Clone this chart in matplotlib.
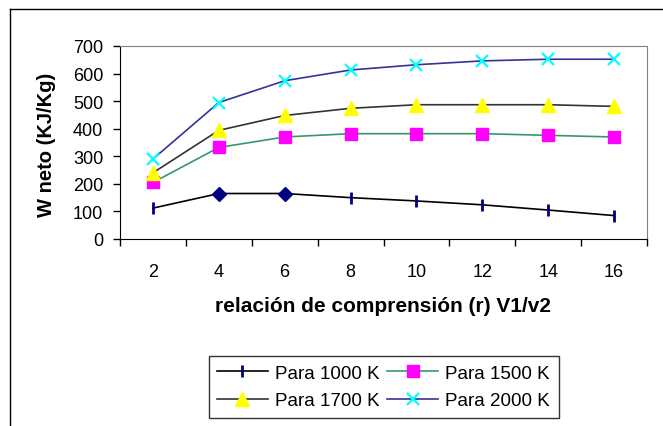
import numpy as np
import matplotlib
matplotlib.use('Agg')
import matplotlib.pyplot as plt
from matplotlib.lines import Line2D

plt.rcParams['font.family'] = ['Liberation Sans', 'DejaVu Sans']

# datos
r_labels = ['2', '4', '6', '8', '10', '12', '14', '16']
w_1000 = [112, 165, 165, 150, 138, 124, 105, 85]
w_1500 = [205, 332, 370, 382, 382, 382, 376, 370]
w_1700 = [240, 394, 448, 474, 487, 487, 487, 481]
w_2000 = [290, 495, 574, 613, 632, 646, 652, 652]
# puntos de la serie 1000 K que aparecen con rombo
rombo_1000 = [1, 2]

fig = plt.figure(figsize=(6.63, 4.27), dpi=100)
W, H = 663, 427
ax = fig.add_axes([120 / W, 1 - 240 / H, 527 / W, 193 / H])

x = np.arange(len(r_labels))

# líneas
ax.plot(x, w_1000, color='black', lw=1.2, zorder=2)
ax.plot(x, w_1500, color='#339966', lw=1.2, zorder=2)
ax.plot(x, w_1700, color='#333333', lw=1.2, zorder=2)
ax.plot(x, w_2000, color='#333399', lw=1.2, zorder=2)

# marcadores
resto = [i for i in x if i not in rombo_1000]
ax.plot(x[resto], np.array(w_1000)[resto], ls='none', marker='|', ms=9,
        mew=2, color='#000080', zorder=3)
ax.plot(x[rombo_1000], np.array(w_1000)[rombo_1000], ls='none', marker='D',
        ms=7, color='#000080', zorder=3)
ax.plot(x, w_1500, ls='none', marker='s', ms=8, mfc='#FF00FF',
        mec='#FF00FF', zorder=3)
ax.plot(x, w_1700, ls='none', marker='^', ms=9.5, mfc='#FFFF00',
        mec='#FFFF00', zorder=3)
ax.plot(x, w_2000, ls='none', marker='x', ms=9, mew=1.6, color='#00FFFF',
        zorder=4)

ax.set_xlim(-0.5, len(r_labels) - 0.5)
ax.set_ylim(0, 700)
ax.set_yticks(range(0, 701, 100))
ax.set_xticks(np.arange(len(r_labels) + 1) - 0.5)
ax.set_xticklabels([])
ax.set_xticks(x, minor=True)
ax.set_xticklabels(r_labels, minor=True)

ax.tick_params(axis='y', direction='out', length=5, width=1, pad=7,
               labelsize=13)
ax.tick_params(axis='x', which='major', direction='out', length=5, width=1)
ax.tick_params(axis='x', which='minor', length=0, pad=17, labelsize=13)

for s in ['top', 'right']:
    ax.spines[s].set_color('#808080')
for s in ['left', 'bottom']:
    ax.spines[s].set_color('black')

fig.text(47 / W, 1 - 145 / H, 'W neto (KJ/Kg)', rotation=90, ha='center',
         va='center', fontsize=14.5, fontweight='bold')
fig.text(383 / W, 1 - 307 / H, 'relación de comprensión (r) V1/v2',
         ha='center', va='center', fontsize=15, fontweight='bold')

# borde exterior del gráfico
fig.add_artist(Line2D([10 / W, 10 / W], [0, 1 - 10 / H], color='black',
                      lw=1, transform=fig.transFigure))
fig.add_artist(Line2D([10 / W, 1], [1 - 10 / H, 1 - 10 / H], color='black',
                      lw=1, transform=fig.transFigure))

h_1000 = Line2D([], [], color='black', lw=1.2, marker='|', ms=9, mew=2,
                mec='#000080')
h_1500 = Line2D([], [], color='#339966', lw=1.2, marker='s', ms=8,
                mfc='#FF00FF', mec='#FF00FF')
h_1700 = Line2D([], [], color='#333333', lw=1.2, marker='^', ms=9.5,
                mfc='#FFFF00', mec='#FFFF00')
h_2000 = Line2D([], [], color='#333399', lw=1.2, marker='x', ms=9, mew=1.6,
                mec='#00FFFF')
# orden por columnas para que las filas queden como en el original
handles = [h_1000, h_1700, h_1500, h_2000]
labels = ['Para 1000 K', 'Para 1700 K', 'Para 1500 K', 'Para 2000 K']
leg = fig.legend(handles, labels, ncol=2, loc='center',
                 bbox_to_anchor=(383.5 / W, 1 - 388 / H), fontsize=13.5,
                 frameon=True, fancybox=False, edgecolor='black',
                 handlelength=2.7, handletextpad=0.4, columnspacing=0.4,
                 labelspacing=0.55, borderpad=0.45, borderaxespad=0)
leg.get_frame().set_linewidth(1)

fig.savefig('out.png', dpi=100)
